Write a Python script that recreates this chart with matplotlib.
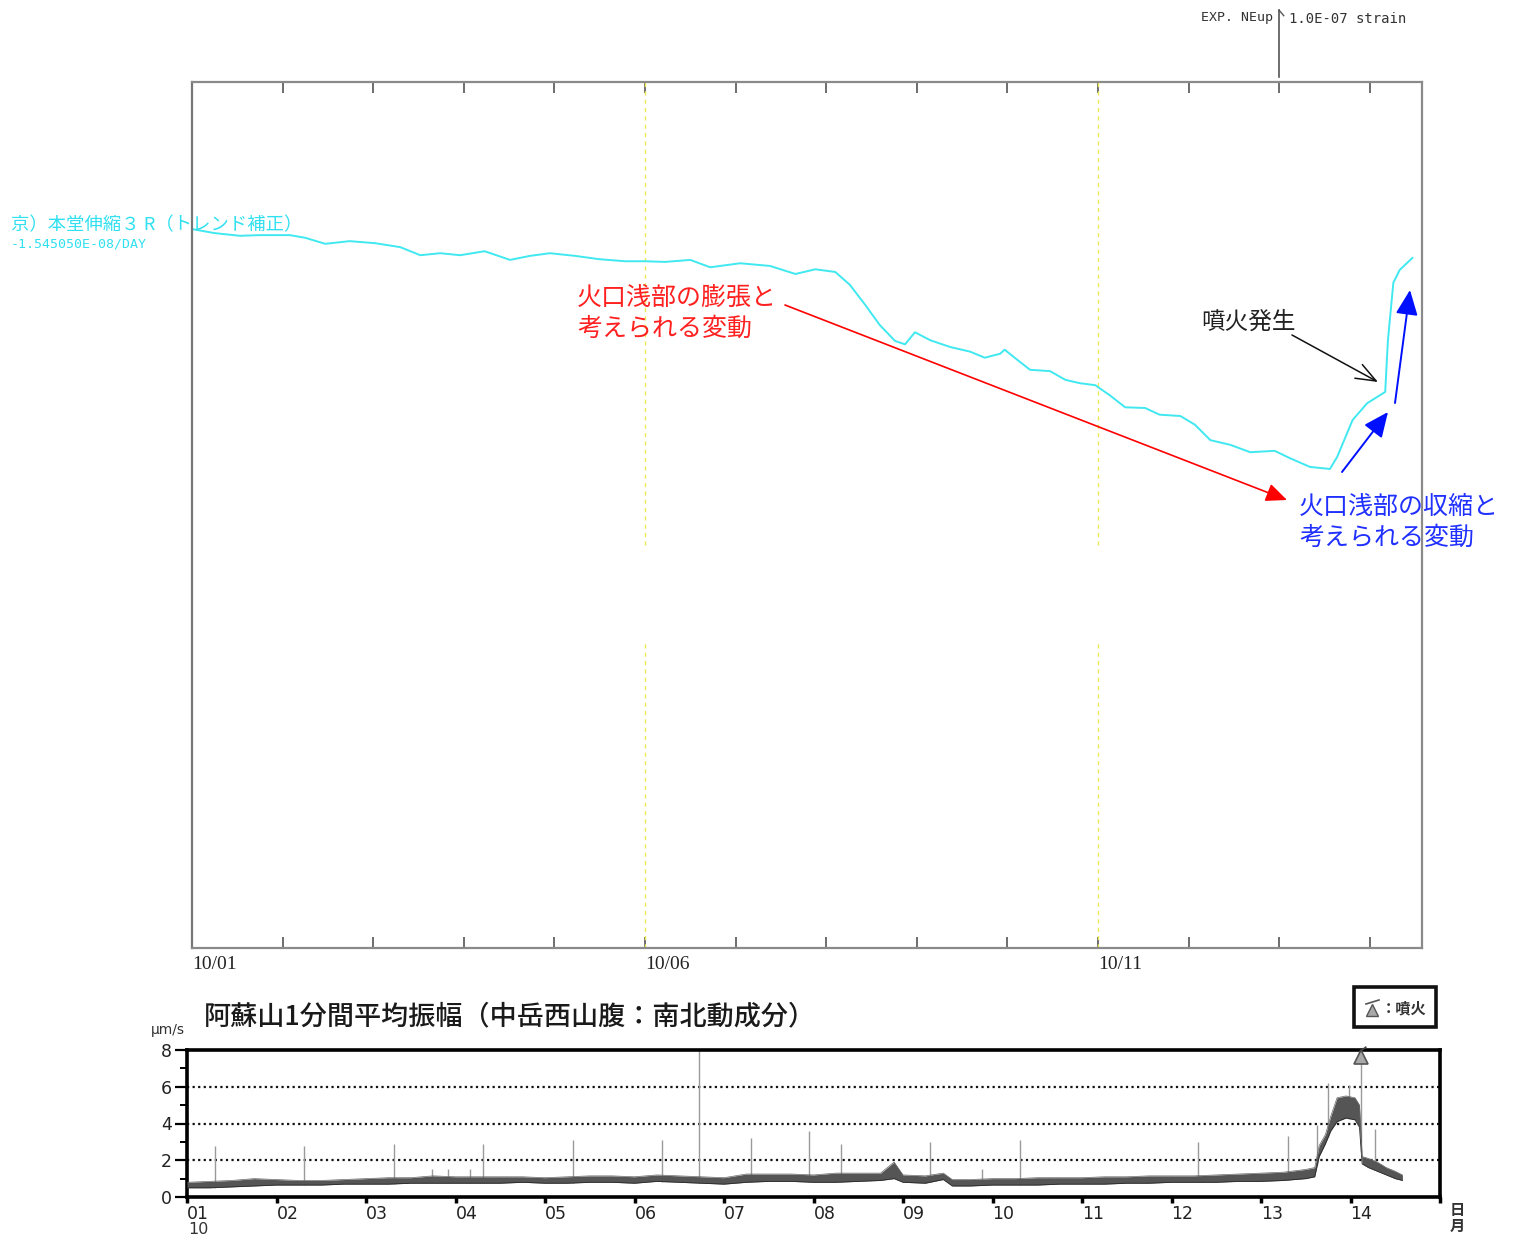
import matplotlib
matplotlib.use("Agg")
import matplotlib.pyplot as plt
from matplotlib.patches import Rectangle
from matplotlib.lines import Line2D
import numpy as np

plt.rcParams['font.family'] = ['Noto Sans CJK JP', 'DejaVu Sans']

# ---------------- strain record (days since 10/01 00:00, strain in 1e-7) ----------------
strain_day = [0.00, 0.25, 0.53, 0.75, 1.08, 1.25, 1.47, 1.74, 2.02, 2.30, 2.52, 2.74,
              2.96, 3.23, 3.51, 3.73, 3.95, 4.23, 4.50, 4.78, 5.00, 5.22, 5.50, 5.72,
              6.05, 6.38, 6.66, 6.88, 7.10, 7.26, 7.43, 7.59, 7.76, 7.87, 7.98, 8.15,
              8.37, 8.59, 8.75, 8.92, 8.97, 9.08, 9.25, 9.47, 9.64, 9.80, 9.97, 10.13,
              10.30, 10.52, 10.68, 10.91, 11.07, 11.24, 11.46, 11.68, 11.95, 12.12,
              12.34, 12.56, 12.64, 12.81, 12.97, 13.17, 13.20, 13.26, 13.33, 13.47]
strain_val = [10.73, 10.67, 10.63, 10.64, 10.64, 10.60, 10.51, 10.55, 10.52, 10.46, 10.34, 10.37,
              10.34, 10.40, 10.27, 10.33, 10.37, 10.33, 10.28, 10.25, 10.25, 10.24, 10.27, 10.16,
              10.22, 10.18, 10.06, 10.13, 10.09, 9.90, 9.60, 9.30, 9.06, 9.01, 9.19, 9.07,
              8.97, 8.90, 8.81, 8.87, 8.93, 8.81, 8.63, 8.61, 8.48, 8.43, 8.40, 8.25,
              8.07, 8.06, 7.96, 7.94, 7.81, 7.58, 7.51, 7.40, 7.42, 7.31,
              7.18, 7.15, 7.33, 7.88, 8.13, 8.30, 9.07, 9.93, 10.12, 10.30]
strain_tick_days = list(range(0, 14))
strain_tick_labels = ['10/01', '', '', '', '', '10/06', '', '', '', '', '10/11', '', '', '']
guide_days = [5, 10]

# ---------------- 1-minute mean amplitude (day of October, um/s) ----------------
amp_t = [1.00, 1.25, 1.50, 1.75, 2.00, 2.25, 2.50, 2.75, 3.00, 3.25, 3.50, 3.75,
         4.00, 4.25, 4.50, 4.75, 5.00, 5.25, 5.50, 5.75, 6.00, 6.25, 6.50, 6.75,
         7.00, 7.25, 7.50, 7.75, 8.00, 8.25, 8.50, 8.75, 8.90, 9.00, 9.25, 9.45,
         9.55, 9.75, 10.00, 10.25, 10.50, 10.75, 11.00, 11.25, 11.50, 11.75, 12.00,
         12.25, 12.50, 12.75, 13.00, 13.25, 13.50, 13.60, 13.65, 13.72, 13.78, 13.85,
         13.95, 14.05, 14.10, 14.13, 14.20, 14.30, 14.40, 14.50, 14.58]
amp_lo = [0.50, 0.50, 0.55, 0.60, 0.65, 0.65, 0.65, 0.70, 0.70, 0.70, 0.75, 0.75,
          0.75, 0.75, 0.75, 0.80, 0.75, 0.75, 0.80, 0.80, 0.75, 0.85, 0.80, 0.75,
          0.70, 0.80, 0.85, 0.85, 0.80, 0.80, 0.85, 0.90, 1.00, 0.80, 0.75, 0.95,
          0.60, 0.60, 0.65, 0.65, 0.65, 0.70, 0.70, 0.70, 0.75, 0.75, 0.80,
          0.80, 0.80, 0.85, 0.85, 0.90, 1.00, 1.10, 2.20, 2.90, 3.60, 4.10,
          4.30, 4.20, 3.80, 1.80, 1.60, 1.40, 1.20, 1.00, 0.90]
amp_hi = [0.80, 0.85, 0.90, 1.00, 0.95, 0.90, 0.90, 0.95, 1.00, 1.05, 1.05, 1.15,
          1.10, 1.10, 1.10, 1.10, 1.05, 1.10, 1.15, 1.15, 1.10, 1.20, 1.15, 1.10,
          1.05, 1.25, 1.25, 1.25, 1.20, 1.30, 1.30, 1.30, 1.90, 1.20, 1.15, 1.30,
          0.95, 0.95, 1.00, 1.00, 1.05, 1.05, 1.05, 1.10, 1.10, 1.15, 1.15,
          1.15, 1.20, 1.25, 1.30, 1.35, 1.50, 1.60, 2.80, 3.40, 4.40, 5.40,
          5.50, 5.40, 5.00, 2.20, 2.10, 1.90, 1.60, 1.40, 1.20]
spike_t = [1.31, 2.31, 3.31, 4.31, 5.31, 6.31, 6.72, 7.30, 7.95, 8.31, 9.30, 10.31,
           12.30, 13.30, 3.74, 3.92, 4.16, 9.88, 13.63, 13.75, 13.98, 14.27, 14.12]
spike_v = [2.8, 2.8, 2.9, 2.9, 3.1, 3.1, 8.0, 3.2, 3.6, 2.9, 3.0, 3.1,
           3.0, 3.3, 1.5, 1.5, 1.5, 1.5, 3.9, 6.2, 6.1, 3.7, 8.0]
eruption_t = 14.12
eruption_v = 7.6
amp_ticks = list(range(1, 16))
amp_tick_labels = ['01', '02', '03', '04', '05', '06', '07', '08', '09', '10',
                   '11', '12', '13', '14', '']

W, H = 1519, 1236
fig = plt.figure(figsize=(W / 100, H / 100), dpi=100)


def rect(l, t, r, b):
    return [l / W, 1 - b / H, (r - l) / W, (b - t) / H]


def fx(px):
    return px / W


def fy(py):
    return 1 - py / H


# ---------------- upper panel: strain ----------------
ax1 = fig.add_axes(rect(192, 82, 1422, 948))
day_px = 90.6
strain_px = 67.0
ax1.set_xlim(0, (1422 - 192) / day_px)
ax1.set_ylim(0, (948 - 82) / strain_px)
top = (948 - 82) / strain_px

for d in guide_days:
    ax1.plot([d, d], [(948 - 545) / strain_px, top], color='#eaea55', lw=1.0,
             ls=(0, (3, 3)))
    ax1.plot([d, d], [0, (948 - 640) / strain_px], color='#eaea55', lw=1.0,
             ls=(0, (3, 3)))

ax1.plot(strain_day, strain_val, color='#40e8f0', lw=1.4)

ax1.set_xticks(strain_tick_days)
ax1.set_xticklabels(strain_tick_labels, ha='left', fontfamily='Liberation Serif',
                    fontsize=14, color='#222222')
ax1.tick_params(axis='x', direction='in', length=8, width=1.2, color='#555555',
                top=True, bottom=True, pad=6)
ax1.set_yticks([])
for sp in ax1.spines.values():
    sp.set_color('#8a8a8a')
    sp.set_linewidth(1.6)
ax1.spines['left'].set_color('#777777')

# 1.0E-07 strain scale bar above the frame
ax1.plot([12, 12], [top + 0.07, top + 1.07], color='#555555', lw=1.2, clip_on=False)
ax1.plot([12, 12.05], [top + 1.07, top + 0.99], color='#555555', lw=1.0, clip_on=False)
fig.text(fx(1273), fy(18), 'EXP. NEup', ha='right', va='center',
         fontfamily='DejaVu Sans Mono', fontsize=9.5, color='#333333')
fig.text(fx(1289), fy(19), '1.0E-07 strain', ha='left', va='center',
         fontfamily='DejaVu Sans Mono', fontsize=10, color='#333333')

fig.text(fx(11), fy(225), '京）本堂伸縮３ R（トレンド補正）', ha='left', va='center',
         fontsize=13.2, color='#30e0f0')
fig.text(fx(11), fy(244), '-1.545050E-08/DAY', ha='left', va='center',
         fontfamily='DejaVu Sans Mono', fontsize=9.5, color='#30e0f0')

# annotations
fig.text(fx(577), fy(298), '火口浅部の膨張と', ha='left', va='center', fontsize=18,
         color='#ff2020')
fig.text(fx(577), fy(329), '考えられる変動', ha='left', va='center', fontsize=18,
         color='#ff2020')
fig.text(fx(1299), fy(507), '火口浅部の収縮と', ha='left', va='center', fontsize=18,
         color='#2030ff')
fig.text(fx(1299), fy(538), '考えられる変動', ha='left', va='center', fontsize=18,
         color='#2030ff')
fig.text(fx(1201), fy(322), '噴火発生', ha='left', va='center', fontsize=17,
         color='#222222')

ax1.annotate('', xy=(fx(1287), fy(500)), xytext=(fx(785), fy(305)),
             xycoords='figure fraction', textcoords='figure fraction',
             arrowprops=dict(arrowstyle='-|>,head_length=0.8,head_width=0.35',
                             mutation_scale=16, color='#ff0000', lw=1.2,
                             shrinkA=0, shrinkB=0))
ax1.annotate('', xy=(fx(1378), fy(382)), xytext=(fx(1292), fy(335)),
             xycoords='figure fraction', textcoords='figure fraction',
             arrowprops=dict(arrowstyle='->,head_length=0.9,head_width=0.35',
                             mutation_scale=16, color='#111111', lw=1.1,
                             shrinkA=0, shrinkB=0))
for (x0, y0, x1, y1) in [(1342, 472, 1388, 412), (1395, 403, 1410, 290)]:
    ax1.annotate('', xy=(fx(x1), fy(y1)), xytext=(fx(x0), fy(y0)),
                 xycoords='figure fraction', textcoords='figure fraction',
                 arrowprops=dict(arrowstyle='-|>,head_length=0.9,head_width=0.4',
                                 mutation_scale=17, color='#0010ff', lw=1.4,
                                 shrinkA=0, shrinkB=0))

# ---------------- lower panel: amplitude ----------------
ax2 = fig.add_axes(rect(187, 1050, 1440, 1197))
ax2.set_xlim(1, 15)
ax2.set_ylim(0, 8)

for g in [2, 4, 6]:
    ax2.axhline(g, color='#111111', lw=1.6, ls=(0, (1, 1.5)), zorder=1)

spike_base = np.interp(spike_t, amp_t, amp_lo)
ax2.vlines(spike_t, spike_base, spike_v, color='#9a9a9a', lw=1.0, zorder=2)
ax2.fill_between(amp_t, amp_lo, amp_hi, color='#555555', lw=0, zorder=3)
ax2.plot(amp_t, amp_lo, color='#2a2a2a', lw=0.6, zorder=3)
ax2.plot(amp_t, amp_hi, color='#666666', lw=0.5, zorder=3)

ax2.plot([eruption_t], [eruption_v], marker='^', ms=10, mfc='#a8a8a8', mec='#555555',
         mew=1.2, ls='none', zorder=5, clip_on=False)
ax2.plot([eruption_t - 0.02, eruption_t + 0.05], [7.9, 8.15], color='#444444',
         lw=1.2, clip_on=False, zorder=5)

ax2.set_xticks(amp_ticks)
ax2.set_xticklabels(amp_tick_labels, ha='left', fontfamily='Liberation Sans Narrow',
                    fontsize=12.5, color='#222222')
ax2.tick_params(axis='x', direction='out', length=4, width=2.5, pad=2)
ax2.set_yticks([0, 2, 4, 6, 8])
ax2.set_yticks([1, 3, 5, 7], minor=True)
ax2.set_yticklabels(['0', '2', '4', '6', '8'], fontfamily='Liberation Sans Narrow',
                    fontsize=12.5, color='#222222')
ax2.tick_params(axis='y', which='major', direction='out', length=9, width=1.6, pad=2)
ax2.tick_params(axis='y', which='minor', direction='out', length=5, width=1.4)
for sp in ax2.spines.values():
    sp.set_color('#000000')
    sp.set_linewidth(2.6)

fig.text(fx(204), fy(1017), '阿蘇山1分間平均振幅（中岳西山腹：南北動成分）', ha='left',
         va='center', fontsize=19.5, fontweight='medium', color='#1a1a1a')
fig.text(fx(151), fy(1030), 'μm/s', ha='left', va='center',
         fontfamily='Liberation Sans Narrow', fontsize=10, color='#333333')
fig.text(fx(188), fy(1229), '10', ha='left', va='center',
         fontfamily='Liberation Sans Narrow', fontsize=11.5, color='#333333')
fig.text(fx(1457), fy(1210), '日', ha='center', va='center', fontsize=11,
         fontweight='bold', color='#333333')
fig.text(fx(1457), fy(1226), '月', ha='center', va='center', fontsize=11,
         fontweight='bold', color='#333333')

# legend box for the eruption marker
fig.patches.append(Rectangle((fx(1354), fy(1027)), (1436 - 1354) / W, (1027 - 987) / H,
                             transform=fig.transFigure, fill=False, lw=2.6,
                             ec='#111111'))
fig.add_artist(Line2D([fx(1372)], [fy(1010)], marker='^', ms=8, mfc='#a8a8a8',
                      mec='#555555', ls='none', transform=fig.transFigure))
fig.add_artist(Line2D([fx(1366), fx(1379)], [fy(1004), fy(1000)], color='#555555',
                      lw=1.2, transform=fig.transFigure))
fig.text(fx(1381), fy(1008), '：噴火', ha='left', va='center', fontsize=11,
         fontweight='bold', color='#333333')

fig.savefig('out.png', dpi=100)
